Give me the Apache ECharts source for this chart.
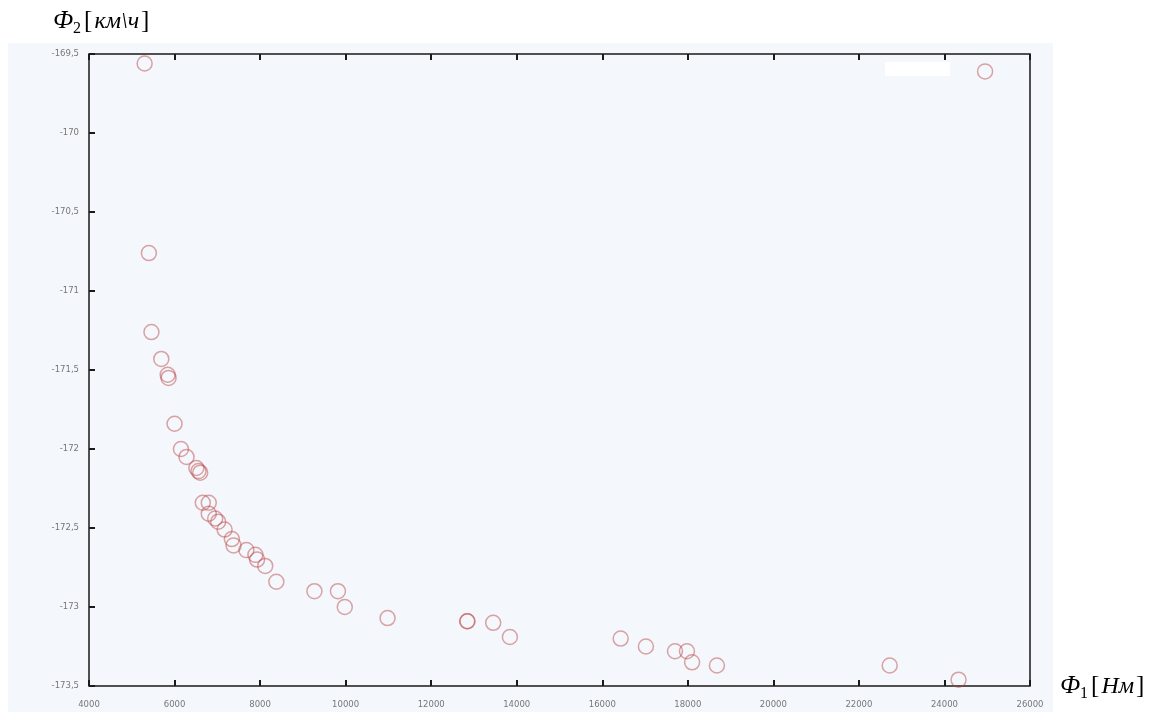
<!DOCTYPE html>
<html>
<head>
<meta charset="utf-8">
<script src="https://cdn.jsdelivr.net/npm/echarts@6/dist/echarts.min.js"></script>
<style>
html,body{margin:0;padding:0;background:#fff;}
#chart{width:1153px;height:718px;}
</style>
</head>
<body>
<div id="chart"></div>
<script>
// Φ1 [Нм] values
var phi1 = [5300, 5400, 5460, 5690, 5840, 5860, 6000, 6150, 6280, 6510, 6560, 6600,
  6660, 6800, 6800, 6950, 7020, 7170, 7340, 7380, 7680, 7890, 7930, 8120, 8380,
  9270, 9820, 9980, 10980, 12850, 12840, 13450, 13840, 16430, 17020, 17700, 17980,
  18100, 18680, 22720, 24330, 24950];
// Φ2 [км\ч] values
var phi2 = [-169.56, -170.76, -171.26, -171.43, -171.53, -171.55, -171.84, -172.00, -172.05, -172.12, -172.14, -172.15,
  -172.34, -172.34, -172.41, -172.44, -172.46, -172.51, -172.57, -172.61, -172.64, -172.67, -172.70, -172.74, -172.84,
  -172.90, -172.90, -173.00, -173.07, -173.09, -173.09, -173.10, -173.19, -173.20, -173.25, -173.28, -173.28,
  -173.35, -173.37, -173.37, -173.46, -169.61];
var xMin = 4000, xMax = 26000, xStep = 2000;
var yMin = -173.5, yMax = -169.5, yStep = 0.5;
var yTitle = {main: 'Ф', sub: '2', unit: 'км\\ч'};
var xTitle = {main: 'Ф', sub: '1', unit: 'Нм'};

var points = phi1.map(function (v, i) { return [v, phi2[i]]; });

var chart = echarts.init(document.getElementById('chart'), null, {renderer: 'canvas'});
var labelStyle = {color: '#777', fontSize: 8.5, fontFamily: 'DejaVu Sans'};
var rich = {
  m: {fontFamily: 'Liberation Serif', fontStyle: 'italic', fontSize: 25, color: '#111'},
  s: {fontFamily: 'Liberation Serif', fontSize: 16, color: '#111', verticalAlign: 'bottom', padding: [14, 1, 0, 0]},
  b: {fontFamily: 'Liberation Serif', fontSize: 25, color: '#111', padding: [0, 2, 0, 2]},
  u: {fontFamily: 'Liberation Serif', fontStyle: 'italic', fontSize: 24, color: '#111'}
};
function title(t) {
  return '{m|' + t.main + '}{s|' + t.sub + '}{b|[}{u|' + t.unit + '}{b|]}';
}
chart.setOption({
  animation: false,
  backgroundColor: '#ffffff',
  graphic: [
    {type: 'rect', z: -10, shape: {x: 8, y: 43, width: 1045, height: 669}, style: {fill: '#f4f7fb'}},
    {type: 'rect', z: 10, shape: {x: 885, y: 62, width: 65, height: 14}, style: {fill: '#ffffff'}},
    {type: 'text', left: 53, top: 9, z: 20, style: {text: title(yTitle), rich: rich}},
    {type: 'text', left: 1060, top: 674, z: 20, style: {text: title(xTitle), rich: rich}}
  ],
  grid: {left: 89, right: 123, top: 54, bottom: 32, show: true, borderColor: '#1a1a1a', borderWidth: 1.5, backgroundColor: '#f4f7fb'},
  xAxis: [{
    type: 'value', min: xMin, max: xMax, interval: xStep, position: 'bottom',
    axisLine: {show: false}, splitLine: {show: false},
    axisTick: {show: true, inside: true, length: 6, lineStyle: {color: '#1a1a1a', width: 2}},
    axisLabel: Object.assign({margin: 14, showMinLabel: true, showMaxLabel: true, formatter: function (v) { return String(v); }}, labelStyle)
  }, {
    type: 'value', min: xMin, max: xMax, interval: xStep, position: 'top',
    axisLine: {show: false}, splitLine: {show: false},
    axisTick: {show: true, inside: true, length: 6, lineStyle: {color: '#1a1a1a', width: 2}},
    axisLabel: {show: false}
  }],
  yAxis: [{
    type: 'value', min: yMin, max: yMax, interval: yStep,
    axisLine: {show: false}, splitLine: {show: false},
    axisTick: {show: true, inside: true, length: 6, lineStyle: {color: '#1a1a1a', width: 2}},
    axisLabel: Object.assign({margin: 10, formatter: function (v) { return String(v).replace('.', ','); }}, labelStyle)
  }],
  series: [{
    type: 'scatter', xAxisIndex: 0, yAxisIndex: 0,
    data: points, symbol: 'circle', symbolSize: 15,
    itemStyle: {color: 'rgba(0,0,0,0)', borderColor: 'rgba(185,70,70,0.6)', borderWidth: 1.5},
    z: 5
  }]
});
</script>
</body>
</html>
